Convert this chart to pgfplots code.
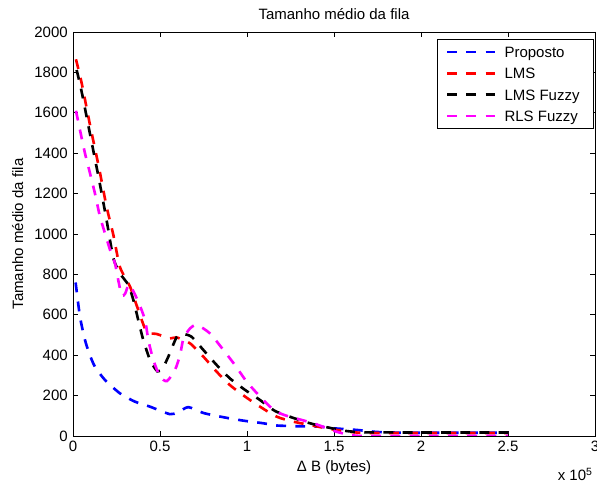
\documentclass[border=0pt]{standalone}
\usepackage{fontspec}
\setmainfont{Liberation Sans}
\usepackage{pgfplots}
\pgfplotsset{compat=1.18}

\definecolor{mblue}{rgb}{0,0,1}
\definecolor{mred}{rgb}{1,0,0}
\definecolor{mmag}{rgb}{1,0,1}

\begin{document}
\begin{tikzpicture}
\begin{axis}[
  scale only axis,
  width=348pt, height=269.33pt,
  xmin=0, xmax=300000, ymin=0, ymax=2000,
  xtick={0,50000,100000,150000,200000,250000,300000},
  xticklabels={0,0.5,1,1.5,2,2.5,3},
  ytick={0,200,400,600,800,1000,1200,1400,1600,1800,2000},
  yticklabels={0,200,400,600,800,1000,1200,1400,1600,1800,2000},
  scaled x ticks=false,
  scaled y ticks=false,
  tick align=inside, xtick pos=both, ytick pos=both,
  major tick length=3.3pt,
  axis line style={line width=0.6pt},
  every tick/.style={black, line width=0.6pt},
  title={Tamanho médio da fila},
  title style={at={(axis description cs:0.5,1.0223)}, anchor=center, inner sep=0pt},
  xlabel={Δ B (bytes)},
  xlabel style={at={(axis description cs:0.5,-0.079)}, anchor=center, inner sep=0pt},
  ylabel={Tamanho médio da fila},
  ylabel style={at={(axis description cs:-0.106,0.5)}, rotate=0, anchor=center, inner sep=0pt},
  every axis plot/.append style={line width=1.75pt, dash pattern=on 6.6pt off 6.2pt, smooth, tension=0.4},
  legend image code/.code={\draw[#1, sharp plot] (0pt,0pt) -- (32.7pt,0pt);
    \path (37.4pt,0pt);},
  legend cell align=left,
  legend style={at={(0.998,0.982)}, anchor=north east, draw=black, line width=0.6pt,
    inner xsep=5.3pt, inner ysep=2.45pt, row sep=2.5pt, font=\normalsize,
    nodes={inner sep=0pt, text height=9.5pt, text depth=2.2pt}},
]
% Proposto
\addplot[mblue] coordinates {
 (1500,760) (4000,591) (6900,475) (9500,405) (12600,343) (18400,277) (27000,211)
 (35600,170) (44300,145) (55700,108) (60500,118) (66300,143) (74900,114)
 (86400,93) (97900,76) (109400,63) (117000,52) (130000,48) (142000,46)
 (150000,38) (163000,30) (174500,20) (185000,17) (200000,16) (250000,16)
};
\addlegendentry{Proposto\hspace*{4pt}}
% LMS
\addplot[mred] coordinates {
 (1700,1865) (5000,1746) (10000,1530) (15000,1325) (19300,1135) (23200,995)
 (27000,836) (32800,739) (37500,624) (42300,516)
 (48100,505) (55700,483) (59600,488) (67200,459) (74900,393) (82600,318)
 (90200,252) (98900,195) (107500,145) (117000,96) (126600,71) (145800,38)
 (155000,25) (165000,16) (180000,15) (250000,15)
};
\addlegendentry{LMS\hspace*{4pt}}
% LMS Fuzzy
\addplot[black] coordinates {
 (2100,1812) (5000,1703) (10000,1485) (15000,1268) (19300,1069)
 (23200,880) (27000,805) (31800,748) (34700,673)
 (37500,574) (40400,475) (44300,376) (48500,320) (51500,335) (54800,393)
 (59600,490) (63000,505) (68200,491) (74900,426) (82600,351) (90200,285)
 (98900,228) (107500,178) (117000,120) (136200,63) (153400,30) (160000,22)
 (170000,18) (250000,17)
};
\addlegendentry{LMS Fuzzy\hspace*{4pt}}
% RLS Fuzzy
\addplot[mmag] coordinates {
 (1700,1610) (4000,1515) (6900,1399) (9800,1300) (12600,1201) (15500,1086)
 (18400,1003) (21300,921) (24100,855) (26000,772) (28000,695) (30000,705)
 (32400,750) (37500,665) (41400,574) (43300,475) (46200,376) (50000,294)
 (54000,272) (58600,327) (61500,400) (63400,480) (67000,530) (71100,550)
 (78700,508) (86400,426) (93100,351) (99800,269) (107500,195) (113200,145)
 (117000,120) (122800,100) (138100,63) (151500,21) (160000,5) (170000,0)
 (250000,0)
};
\addlegendentry{RLS Fuzzy\hspace*{4pt}}
\end{axis}
\node[anchor=north east, inner sep=0pt] at ([xshift=-1.3pt,yshift=-21.3pt]current axis.south east) {x 10\textsuperscript{5}};
\pgfresetboundingbox
\path[use as bounding box] ([xshift=-48.67pt,yshift=-33.33pt]current axis.south west)
  rectangle ([xshift=1.33pt,yshift=21.33pt]current axis.north east);
\end{tikzpicture}
\end{document}
